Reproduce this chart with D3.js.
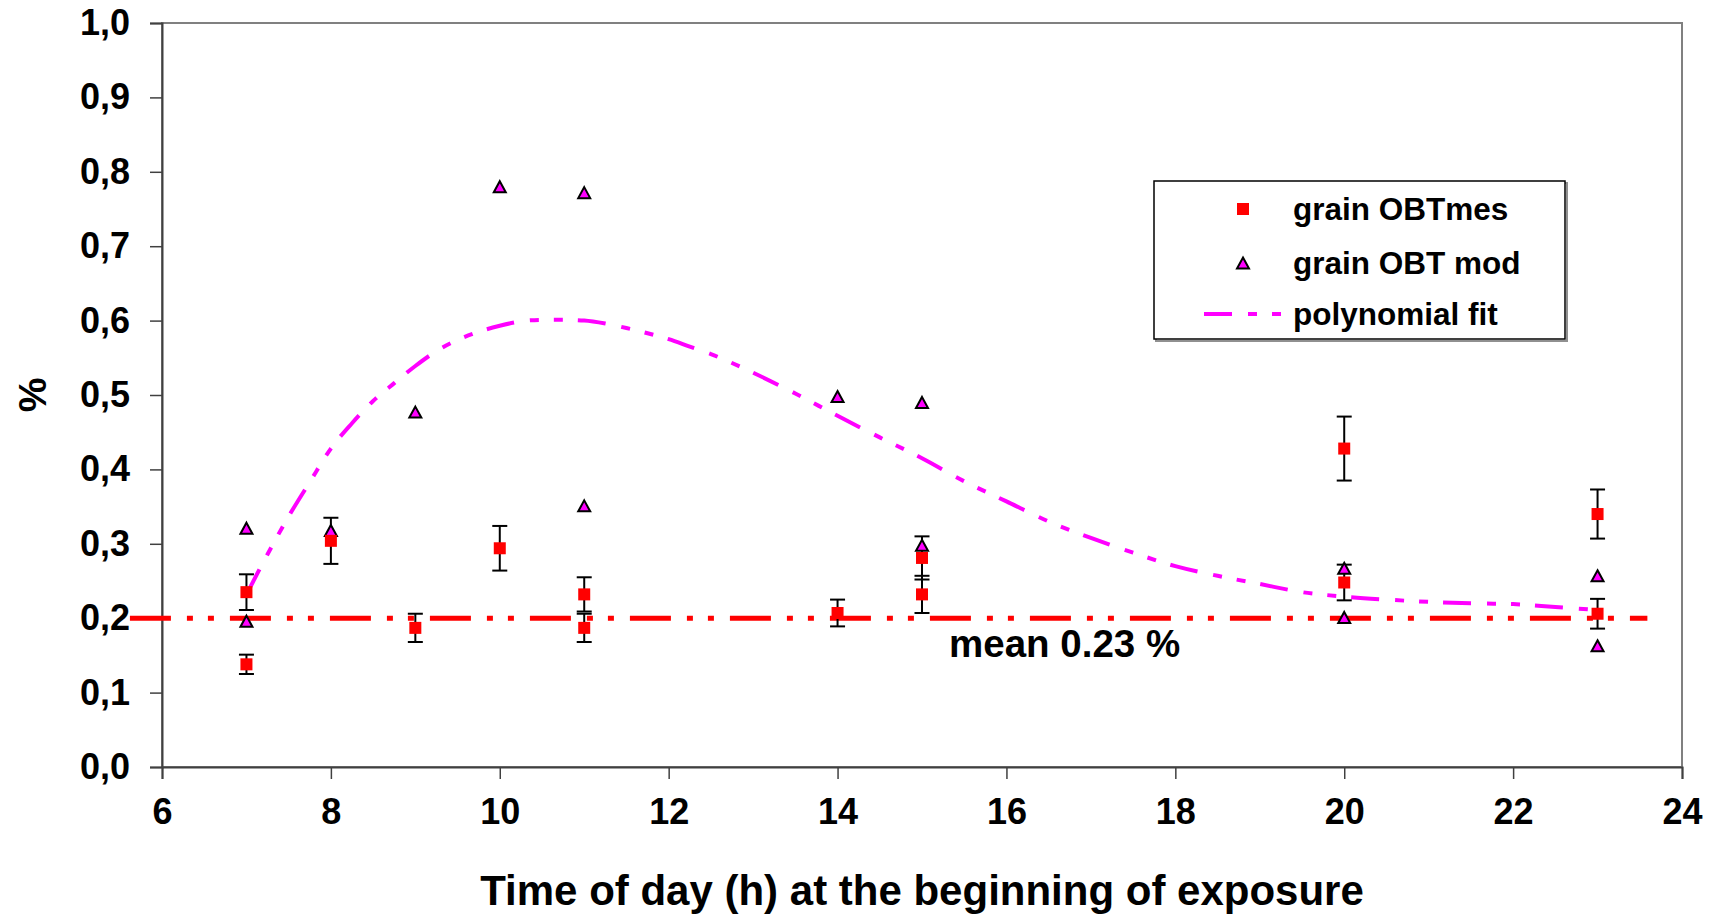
<!DOCTYPE html>
<html>
<head>
<meta charset="utf-8">
<script src="https://cdn.jsdelivr.net/npm/d3@7"></script>
<style>
  html, body { margin: 0; padding: 0; background: #fff; }
  svg { display: block; font-family: "Liberation Sans", Arial, sans-serif; font-weight: bold; }
</style>
</head>
<body>
<svg id="chart" width="1710" height="916"></svg>
<script>
// ---- data ----
const xTicks = [6, 8, 10, 12, 14, 16, 18, 20, 22, 24];
const yTicks = [0, 0.1, 0.2, 0.3, 0.4, 0.5, 0.6, 0.7, 0.8, 0.9, 1.0];

const mesHours  = [7, 7, 8, 9, 10, 11, 11, 14, 15, 15, 20, 20, 23, 23];
const mesValues = [0.235, 0.138, 0.304, 0.187, 0.294, 0.232, 0.187, 0.207, 0.281, 0.232, 0.428, 0.248, 0.340, 0.206];
const mesErrors = [0.024, 0.013, 0.031, 0.019, 0.030, 0.023, 0.019, 0.018, 0.029, 0.025, 0.043, 0.024, 0.033, 0.020];

const modHours  = [7, 7, 8, 9, 10, 11, 11, 14, 15, 15, 20, 20, 23, 23];
const modValues = [0.321, 0.196, 0.318, 0.477, 0.780, 0.772, 0.351, 0.498, 0.490, 0.298, 0.267, 0.201, 0.257, 0.163];

const fitHours  = [7.0, 7.25, 7.5, 7.75, 8.0, 8.25, 8.5, 8.75, 9.0, 9.25, 9.5, 9.75, 10.0, 10.25, 10.5, 10.75, 11.0, 11.25, 11.5, 11.75, 12.0, 12.25, 12.5, 12.75, 13.0, 13.5, 14.0, 14.5, 15.0, 15.5, 16.0, 16.5, 17.0, 17.5, 18.0, 18.5, 19.0, 19.5, 20.0, 20.5, 21.0, 21.5, 22.0, 22.5, 23.0];
const fitValues = [0.232, 0.286, 0.337, 0.383, 0.428, 0.462, 0.492, 0.516, 0.539, 0.559, 0.574, 0.585, 0.593, 0.599, 0.601, 0.601, 0.600, 0.596, 0.590, 0.583, 0.575, 0.565, 0.555, 0.543, 0.530, 0.502, 0.472, 0.443, 0.415, 0.384, 0.357, 0.330, 0.308, 0.288, 0.270, 0.257, 0.246, 0.235, 0.229, 0.225, 0.222, 0.220, 0.219, 0.215, 0.211];

const meanLevel = 0.2;
const meanLineHours = [5.62, 23.59];
const meanLabel = "mean 0.23 %";
const meanLabelHour = 15.32;
const meanLabelValue = 0.148;

const legendLabels = ["grain OBTmes", "grain OBT mod", "polynomial fit"];
const xTitle = "Time of day (h) at the beginning of exposure";
const yTitle = "%";

// ---- layout ----
const svg = d3.select("#chart");
const x = d3.scaleLinear().domain([6, 24]).range([162, 1682]);
const y = d3.scaleLinear().domain([0, 1]).range([767, 23]);

const RED = "#ff0000", MAG = "#ff00ff";

// plot area border (top / right gray)
svg.append("rect")
  .attr("x", x(6)).attr("y", y(1))
  .attr("width", x(24) - x(6)).attr("height", y(0) - y(1))
  .attr("fill", "none").attr("stroke", "#808080").attr("stroke-width", 2);

// axes
const yAxis = d3.axisLeft(y).tickValues(yTicks).tickSize(12).tickPadding(20)
  .tickFormat(d => d3.format(".1f")(d).replace(".", ","));
const gy = svg.append("g").attr("transform", `translate(${x(6)},0)`).call(yAxis);
gy.select(".domain").attr("stroke", "#404040").attr("stroke-width", 2);
gy.selectAll(".tick line").attr("stroke", "#404040").attr("stroke-width", 1.5);
gy.selectAll(".tick text").attr("font-size", 36).attr("font-weight", "bold")
  .attr("fill", "#000").attr("font-family", "Liberation Sans, Arial, sans-serif");

const xAxis = d3.axisBottom(x).tickValues(xTicks).tickSize(12).tickPadding(19)
  .tickFormat(d3.format("d"));
const gx = svg.append("g").attr("transform", `translate(0,${y(0)})`).call(xAxis);
gx.select(".domain").attr("stroke", "#404040").attr("stroke-width", 2);
gx.selectAll(".tick line").attr("stroke", "#404040").attr("stroke-width", 1.5);
gx.selectAll(".tick text").attr("font-size", 36).attr("font-weight", "bold")
  .attr("fill", "#000").attr("font-family", "Liberation Sans, Arial, sans-serif");

// axis titles
svg.append("text").attr("x", (x(6) + x(24)) / 2).attr("y", 905)
  .attr("text-anchor", "middle").attr("font-size", 42).text(xTitle);
svg.append("text").attr("transform", `translate(46,${(y(0) + y(1)) / 2}) rotate(-90)`)
  .attr("text-anchor", "middle").attr("font-size", 39).text(yTitle);

// mean line
svg.append("line")
  .attr("x1", x(meanLineHours[0])).attr("x2", x(meanLineHours[1]))
  .attr("y1", y(meanLevel)).attr("y2", y(meanLevel))
  .attr("stroke", RED).attr("stroke-width", 5)
  .attr("stroke-dasharray", "41,16,6,15,6,16");

svg.append("text").attr("x", x(meanLabelHour)).attr("y", y(meanLabelValue))
  .attr("font-size", 38.5).text(meanLabel);

// polynomial fit curve
const fitData = fitHours.map((h, i) => [h, fitValues[i]]);
svg.append("path")
  .datum(fitData)
  .attr("d", d3.line().x(d => x(d[0])).y(d => y(d[1])).curve(d3.curveMonotoneX))
  .attr("fill", "none").attr("stroke", MAG).attr("stroke-width", 4)
  .attr("stroke-dasharray", "28,16,9,15,9,15");

// error bars
const mesData = mesHours.map((h, i) => ({h, v: mesValues[i], e: mesErrors[i]}));
const eb = svg.append("g").attr("stroke", "#000").attr("stroke-width", 2);
mesData.forEach(d => {
  const cx = x(d.h);
  eb.append("line").attr("x1", cx).attr("x2", cx).attr("y1", y(d.v + d.e)).attr("y2", y(d.v - d.e));
  eb.append("line").attr("x1", cx - 7.5).attr("x2", cx + 7.5).attr("y1", y(d.v + d.e)).attr("y2", y(d.v + d.e));
  eb.append("line").attr("x1", cx - 7.5).attr("x2", cx + 7.5).attr("y1", y(d.v - d.e)).attr("y2", y(d.v - d.e));
});

// triangles
const triPath = (w, h) => `M0,${-h / 2}L${w / 2},${h / 2}L${-w / 2},${h / 2}Z`;
const modData = modHours.map((h, i) => ({h, v: modValues[i]}));
svg.append("g").selectAll("path").data(modData).join("path")
  .attr("d", triPath(12, 11))
  .attr("transform", d => `translate(${x(d.h)},${y(d.v)})`)
  .attr("fill", MAG).attr("stroke", "#000").attr("stroke-width", 2).attr("stroke-linejoin", "miter");

// squares
svg.append("g").selectAll("rect").data(mesData).join("rect")
  .attr("x", d => x(d.h) - 6).attr("y", d => y(d.v) - 6)
  .attr("width", 12).attr("height", 12).attr("fill", RED);

// legend
const lg = svg.append("g");
lg.append("rect").attr("x", 1156).attr("y", 183).attr("width", 411).attr("height", 158)
  .attr("fill", "none").attr("stroke", "#909090").attr("stroke-width", 2);
lg.append("rect").attr("x", 1154).attr("y", 181).attr("width", 411).attr("height", 158)
  .attr("fill", "#fff").attr("stroke", "#000").attr("stroke-width", 1.5);
const rowY = [209, 263, 314];
lg.append("rect").attr("x", 1237).attr("y", rowY[0] - 6).attr("width", 12).attr("height", 12).attr("fill", RED);
lg.append("path").attr("d", triPath(12, 11)).attr("transform", `translate(1243,${rowY[1]})`)
  .attr("fill", MAG).attr("stroke", "#000").attr("stroke-width", 2);
lg.append("line").attr("x1", 1204).attr("x2", 1281).attr("y1", rowY[2]).attr("y2", rowY[2])
  .attr("stroke", MAG).attr("stroke-width", 4).attr("stroke-dasharray", "28,16,9,15,9,15");
legendLabels.forEach((t, i) => {
  lg.append("text").attr("x", 1293).attr("y", rowY[i] + 11).attr("font-size", 31.5).text(t);
});
</script>
</body>
</html>
